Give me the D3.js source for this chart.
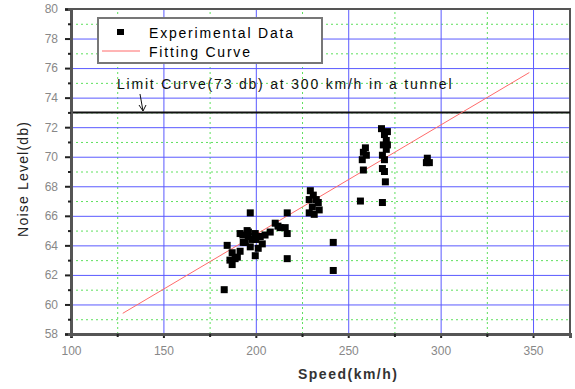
<!DOCTYPE html>
<html>
<head>
<meta charset="utf-8">
<script src="https://cdn.jsdelivr.net/npm/d3@7"></script>
<style>
  body { margin: 0; background: #fff; }
  text { font-family: "Liberation Sans", Arial, sans-serif; }
</style>
</head>
<body>
<svg id="chart"></svg>
<script>
// speed (km/h) and noise level (db) of each measurement
var speeds = [197, 217, 195.3, 195.9, 191.5, 199.7, 202.4, 207.8, 210.5, 213.2, 215.9, 217,
  184.5, 187.2, 188.8, 191.5, 187.2, 197, 199.7, 201.3, 198, 194.3, 217, 182.9, 193.2, 203.5,
  190, 193, 196, 200, 205, 212, 186,
  229.5, 231.1, 232.7, 233.8, 228.9, 230.6, 228.9, 231.6, 234.3,
  241.9, 241.9,
  256.6, 257.6, 258.2, 258.2, 259.3, 259.8,
  268, 269.6, 270.6, 269, 270.6, 268.5, 269.6, 268.5, 269.6, 270.1, 268.5, 271.2, 271.2,
  292.8, 293.9, 292.3];
var noise = [66.2, 66.2, 65.0, 64.6, 64.8, 64.8, 64.6, 64.9, 65.5, 65.2, 65.2, 64.8,
  64.0, 63.5, 63.1, 63.6, 62.7, 63.9, 63.3, 63.8, 64.4, 64.2, 63.1, 61.0, 64.2, 64.1,
  63.2, 64.7, 64.9, 64.4, 64.7, 65.3, 63.0,
  67.7, 67.4, 67.1, 66.9, 67.1, 66.6, 66.2, 66.1, 66.4,
  64.2, 62.3,
  67.0, 69.8, 70.3, 69.1, 70.6, 70.1,
  71.9, 71.5, 71.1, 70.8, 70.5, 70.1, 69.8, 69.2, 69.0, 68.3, 66.9, 71.7, 70.8,
  69.9, 69.6, 69.6];

// fitted line end points
var fitSpeed = [128, 348];
var fitNoise = [59.4, 75.7];

var limitNoise = 73;
var xTicks = [100, 150, 200, 250, 300, 350];
var yTicks = [58, 60, 62, 64, 66, 68, 70, 72, 74, 76, 78, 80];

var W = 575, H = 389;
var margin = {top: 9, right: 5, bottom: 55, left: 71};
var width = W - margin.left - margin.right,
    height = H - margin.top - margin.bottom;

var svg = d3.select("#chart").attr("width", W).attr("height", H);
var g = svg.append("g").attr("transform", "translate(" + margin.left + "," + margin.top + ")");

var x = d3.scaleLinear().domain([100, 370]).range([0, width]);
var y = d3.scaleLinear().domain([58, 80]).range([height, 0]);

var xMinor = d3.range(125, 370, 50);
var yMinor = d3.range(59, 80, 2);

// minor grid (green dotted)
g.append("g")
    .attr("transform", "translate(0," + height + ")")
    .call(d3.axisBottom(x).tickValues(xMinor).tickSize(-height).tickFormat(""))
    .call(a => a.select(".domain").remove())
    .selectAll("line").attr("stroke", "#5ee05e").attr("stroke-dasharray", "2,3");
g.append("g")
    .call(d3.axisLeft(y).tickValues(yMinor).tickSize(-width).tickFormat(""))
    .call(a => a.select(".domain").remove())
    .selectAll("line").attr("stroke", "#5ee05e").attr("stroke-dasharray", "2,3");

// major grid (blue)
g.append("g")
    .attr("transform", "translate(0," + height + ")")
    .call(d3.axisBottom(x).tickValues(xTicks.slice(1)).tickSize(-height).tickFormat(""))
    .call(a => a.select(".domain").remove())
    .selectAll("line").attr("stroke", "#5a5aff");
g.append("g")
    .call(d3.axisLeft(y).tickValues(yTicks.slice(1, -1)).tickSize(-width).tickFormat(""))
    .call(a => a.select(".domain").remove())
    .selectAll("line").attr("stroke", "#5a5aff");

// frame
g.append("rect")
    .attr("width", width).attr("height", height)
    .attr("fill", "none").attr("stroke", "#555").attr("stroke-width", 2);

// limit line
g.append("line")
    .attr("x1", 0).attr("x2", width)
    .attr("y1", y(limitNoise)).attr("y2", y(limitNoise))
    .attr("stroke", "#111").attr("stroke-width", 2);

// fitting curve
g.append("line")
    .attr("x1", x(fitSpeed[0])).attr("y1", y(fitNoise[0]))
    .attr("x2", x(fitSpeed[1])).attr("y2", y(fitNoise[1]))
    .attr("stroke", "#ff6b6b").attr("stroke-width", 1);

// data squares
g.selectAll(".pt")
    .data(speeds)
  .enter().append("rect")
    .attr("class", "pt")
    .attr("x", d => x(d) - 3.5)
    .attr("y", (d, i) => y(noise[i]) - 3.5)
    .attr("width", 7).attr("height", 7)
    .attr("fill", "#000");

// axes: major ticks with labels, minor ticks in their own groups
var axes = [];
axes.push(g.append("g")
    .attr("transform", "translate(0," + height + ")")
    .call(d3.axisBottom(x).tickValues(xTicks).tickSize(4).tickPadding(8)));
axes.push(g.append("g")
    .attr("transform", "translate(0," + height + ")")
    .call(d3.axisBottom(x).tickValues(xMinor).tickSize(3).tickFormat("")));
axes.push(g.append("g")
    .call(d3.axisLeft(y).tickValues(yTicks).tickSize(6).tickPadding(7)));
axes.push(g.append("g")
    .call(d3.axisLeft(y).tickValues(yMinor).tickSize(3).tickFormat("")));
axes.forEach(function(a) {
  a.selectAll(".domain").attr("stroke", "#555").attr("stroke-width", 3);
  a.selectAll("line").attr("stroke", "#222").attr("stroke-width", 2);
  a.selectAll("text").attr("fill", "#888").attr("font-size", 12);
});

// axis titles
svg.append("text")
    .attr("x", margin.left + x(250)).attr("y", 379)
    .attr("text-anchor", "middle").attr("font-size", 14).attr("font-weight", "bold")
    .attr("letter-spacing", 1.5).attr("fill", "#333")
    .text("Speed(km/h)");
svg.append("text")
    .attr("transform", "translate(28," + (margin.top + y(68.5)) + ") rotate(-90)")
    .attr("text-anchor", "middle").attr("font-size", 14).attr("letter-spacing", 1.2).attr("fill", "#222")
    .text("Noise Level(db)");

// limit label and arrow
g.append("text")
    .attr("x", 46).attr("y", 80)
    .attr("font-size", 14).attr("letter-spacing", 1.8).attr("fill", "#111")
    .text("Limit Curve(73 db) at 300 km/h in a tunnel");
g.append("path")
    .attr("d", "M69,85 L72,102 M68,96 L72,102 L75,96")
    .attr("fill", "none").attr("stroke", "#111").attr("stroke-width", 1);

// legend
var legend = g.append("g").attr("transform", "translate(27,9)");
legend.append("rect")
    .attr("width", 224).attr("height", 45)
    .attr("fill", "#fff").attr("stroke", "#777").attr("stroke-width", 2);
legend.append("rect")
    .attr("x", 19).attr("y", 11).attr("width", 7).attr("height", 6).attr("fill", "#000");
legend.append("line")
    .attr("x1", 4).attr("x2", 42).attr("y1", 33).attr("y2", 33)
    .attr("stroke", "#ff6b6b");
legend.append("text").attr("x", 51).attr("y", 20).attr("font-size", 14).attr("letter-spacing", 1.8)
    .text("Experimental Data");
legend.append("text").attr("x", 51).attr("y", 39).attr("font-size", 14).attr("letter-spacing", 1.8)
    .text("Fitting Curve");
</script>
</body>
</html>
